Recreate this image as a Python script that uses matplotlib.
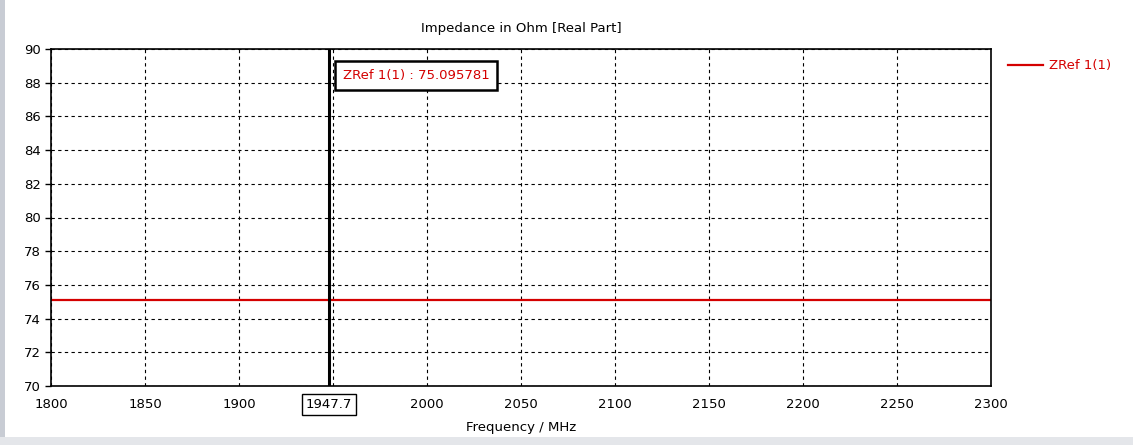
import matplotlib.pyplot as plt
import matplotlib.patches as mpatches
import numpy as np

# data
freq = [1800.0, 2300.0]
zref = [75.095781, 75.095781]
marker_freq = 1947.7
marker_val = 75.095781
xticks = [1800, 1850, 1900, 1950, 2000, 2050, 2100, 2150, 2200, 2250, 2300]
yticks = [70, 72, 74, 76, 78, 80, 82, 84, 86, 88, 90]

plt.rcParams['font.family'] = ['DejaVu Sans']
fs = 9.5

fig = plt.figure(figsize=(11.33, 4.45), dpi=100)
ax = fig.add_axes([51 / 1133, 1 - 386 / 445, 940 / 1133, 337 / 445])

ax.plot(freq, zref, color='#d40000', lw=1.6, label='ZRef 1(1)')
ax.axvline(marker_freq, color='black', lw=2.2)

ax.set_xlim(1800, 2300)
ax.set_ylim(70, 90)
ax.set_xticks(xticks)
ax.set_yticks(yticks)
labels = [str(t) for t in xticks]
labels[3] = ''
ax.set_xticklabels(labels)
ax.tick_params(labelsize=fs, length=4, width=1, color='black', direction='out')
ax.tick_params(axis='x', length=0, pad=9)
ax.grid(True, color='black', linestyle=(0, (3, 3)), lw=0.8)
for s in ax.spines.values():
    s.set_linewidth(1.2)

ax.set_title('Impedance in Ohm [Real Part]', fontsize=fs, pad=12)
ax.set_xlabel('Frequency / MHz', fontsize=fs, labelpad=7)

# marker readout
ax.annotate('ZRef 1(1) : %.6f' % marker_val, xy=(marker_freq, 90), xycoords='data',
            xytext=(10, -24), textcoords='offset points', ha='left', va='bottom',
            color='#d40000', fontsize=fs,
            bbox=dict(boxstyle='square,pad=0.6', fc='white', ec='black', lw=1.8))
ax.annotate('%.1f' % marker_freq, xy=(marker_freq, 70), xycoords='data',
            xytext=(0, -13), textcoords='offset points', ha='center', va='center',
            fontsize=fs,
            bbox=dict(boxstyle='square,pad=0.3', fc='white', ec='black', lw=1.0))

leg = ax.legend(loc='upper left', bbox_to_anchor=(1.013, 0.985), frameon=False,
                fontsize=fs, handlelength=2.6, handletextpad=0.5,
                borderaxespad=0, labelcolor='#d40000')

# window frame bits
fig.patches.append(mpatches.Rectangle((0, 0), 5 / 1133, 1, transform=fig.transFigure,
                                      fc='#c8ccd4', ec='none'))
fig.patches.append(mpatches.Rectangle((0, 0), 1, 8 / 445, transform=fig.transFigure,
                                      fc='#e4e6ea', ec='none'))

fig.savefig('out.png', dpi=100)
